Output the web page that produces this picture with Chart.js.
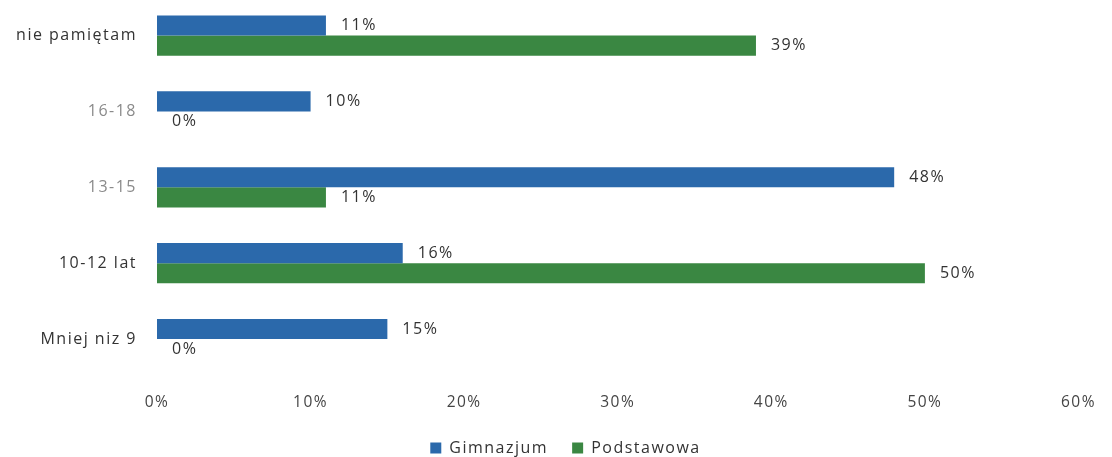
<!DOCTYPE html>
<html>
<head>
<meta charset="utf-8">
<script src="https://cdn.jsdelivr.net/npm/chart.js@4"></script>
<style>
html,body{margin:0;padding:0;background:#fff;overflow:hidden;}
#wrap{position:absolute;left:0;top:-32px;width:1112px;height:498px;}
</style>
</head>
<body>
<div id="wrap"><canvas id="c" width="1112" height="498"></canvas></div>
<script>
const categories = ["nie pamiętam", "16-18", "13-15", "10-12 lat", "Mniej niz 9"];
const gimnazjum = [11, 10, 48, 16, 15];
const podstawowa = [39, 0, 11, 50, 0];
const seriesNames = ["Gimnazjum", "Podstawowa"];
const xTicks = [0, 10, 20, 30, 40, 50, 60];

const categoryColors = ["#333333", "#8a8a8a", "#8a8a8a", "#333333", "#333333"];

const spacing = {
  id: 'spacing',
  beforeLayout(chart) { chart.ctx.letterSpacing = '1.5px'; },
  afterLayout(chart) {
    if (chart.legend) { chart.legend.left += 24; chart.legend.right += 24; }
  },
  beforeDraw(chart) { chart.ctx.letterSpacing = '1.5px'; }
};

const valueLabels = {
  id: 'valueLabels',
  afterDatasetsDraw(chart) {
    const ctx = chart.ctx;
    ctx.save();
    ctx.letterSpacing = '1.5px';
    ctx.font = '16px "Open Sans"';
    ctx.textAlign = 'left';
    ctx.textBaseline = 'middle';
    chart.data.datasets.forEach((ds, di) => {
      const meta = chart.getDatasetMeta(di);
      meta.data.forEach((bar, i) => {
        ctx.fillStyle = '#333333';
        ctx.fillText(ds.data[i] + '%', bar.x + 15, bar.y);
      });
    });
    ctx.restore();
  }
};

new Chart(document.getElementById('c'), {
  type: 'bar',
  data: {
    labels: categories,
    datasets: [
      { label: seriesNames[0], data: gimnazjum, backgroundColor: '#2b69ab', categoryPercentage: 0.53, barPercentage: 1 },
      { label: seriesNames[1], data: podstawowa, backgroundColor: '#3a8742', categoryPercentage: 0.53, barPercentage: 1 }
    ]
  },
  options: {
    indexAxis: 'y',
    responsive: false,
    animation: false,
    layout: { padding: { left: 0, right: 29, top: 0, bottom: 0 } },
    scales: {
      x: {
        min: 0, max: 60,
        afterBuildTicks(scale) { scale.ticks = xTicks.map(v => ({ value: v })); },
        grid: { display: false, drawTicks: false },
        border: { display: false },
        ticks: { callback: v => v + '%', color: '#444444', font: { family: '"Open Sans"', size: 15.5 }, padding: 16, maxRotation: 0 },
        afterFit(scale) { scale.height = 39; }
      },
      y: {
        grid: { display: false, drawTicks: false },
        border: { display: false },
        ticks: {
          color: (c) => categoryColors[c.index],
          font: { family: '"Open Sans"', size: 16 },
          padding: 20
        },
        afterFit(scale) { scale.width = 157; }
      }
    },
    plugins: {
      legend: {
        position: 'bottom',
        labels: { boxWidth: 11, boxHeight: 11, color: '#333333', font: { family: '"Open Sans"', size: 16 }, padding: 24 }
      },
      tooltip: { enabled: false }
    }
  },
  plugins: [spacing, valueLabels]
});
</script>
</body>
</html>
